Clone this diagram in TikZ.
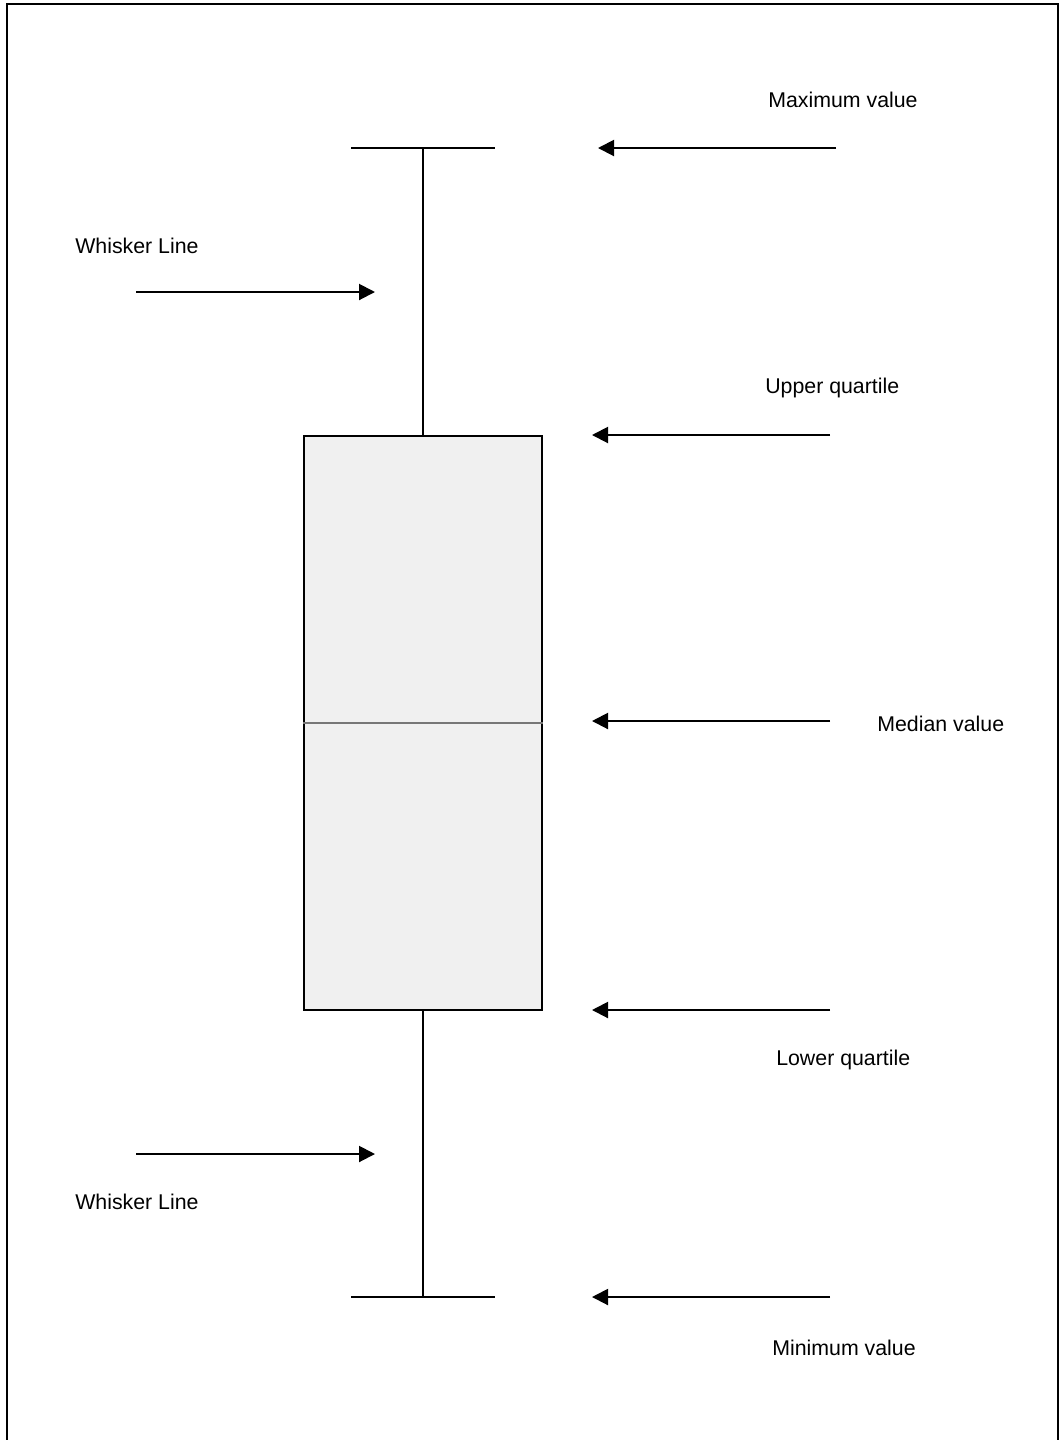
\documentclass[tikz,border=0pt]{standalone}
\usepackage{fontspec}
\setmainfont{Liberation Sans}
\usetikzlibrary{arrows.meta}
\definecolor{BoxFill}{HTML}{F0F0F0}
\definecolor{MedGray}{HTML}{777777}

\begin{document}
\begin{tikzpicture}[x=0.75pt,y=-0.75pt,
    font=\fontsize{16}{19}\selectfont,
    lbl/.style={anchor=base west,inner sep=0pt},
    pointer/.style={-{Triangle[length=12pt,width=12pt]},line width=1.5pt},
    plotline/.style={line width=1.5pt}]
  \useasboundingbox (0,0) rectangle (1060,1440);
  % cadre ouvert en bas
  \draw[plotline] (7,1440) |- (1058,4) -- (1058,1440);
  % boite et mediane
  \node[draw,plotline,fill=BoxFill,inner sep=0pt,minimum width=178.5pt,minimum height=430.5pt] (box) at (423,723) {};
  \draw[MedGray,line width=1.5pt] (box.west) -- (box.east);
  % moustaches
  \coordinate (maxc) at (423,148);
  \coordinate (minc) at (423,1297);
  \draw[plotline] (box.north) -- (maxc);
  \draw[plotline] (box.south) -- (minc);
  \draw[plotline] ([xshift=-54pt]maxc) -- ([xshift=54pt]maxc);
  \draw[plotline] ([xshift=-54pt]minc) -- ([xshift=54pt]minc);
  % etiquettes
  \node[lbl] (maxl) at (768,107) {Maximum value};
  \node[lbl] (whiskl1) at (75,253) {Whisker Line};
  \node[lbl] (uql) at (765,393) {Upper quartile};
  \node[lbl] (medl) at (877,731) {Median value};
  \node[lbl] (lql) at (776,1065) {Lower quartile};
  \node[lbl] (whiskl2) at (75,1209) {Whisker Line};
  \node[lbl] (minl) at (772,1355) {Minimum value};
  % fleches
  \coordinate (maxT) at (836,148);  \coordinate (maxH) at (598,148);
  \coordinate (uqT) at (830,435);   \coordinate (uqH) at (592,435);
  \coordinate (medT) at (830,721);  \coordinate (medH) at (592,721);
  \coordinate (lqT) at (830,1010);  \coordinate (lqH) at (592,1010);
  \coordinate (minT) at (830,1297); \coordinate (minH) at (592,1297);
  \coordinate (w1T) at (136,292);   \coordinate (w1H) at (375,292);
  \coordinate (w2T) at (136,1154);  \coordinate (w2H) at (375,1154);
  \draw[pointer] (maxT) -- (maxH);
  \draw[pointer] (uqT) -- (uqH);
  \draw[pointer] (medT) -- (medH);
  \draw[pointer] (lqT) -- (lqH);
  \draw[pointer] (minT) -- (minH);
  \draw[pointer] (w1T) -- (w1H);
  \draw[pointer] (w2T) -- (w2H);
\end{tikzpicture}
\end{document}
